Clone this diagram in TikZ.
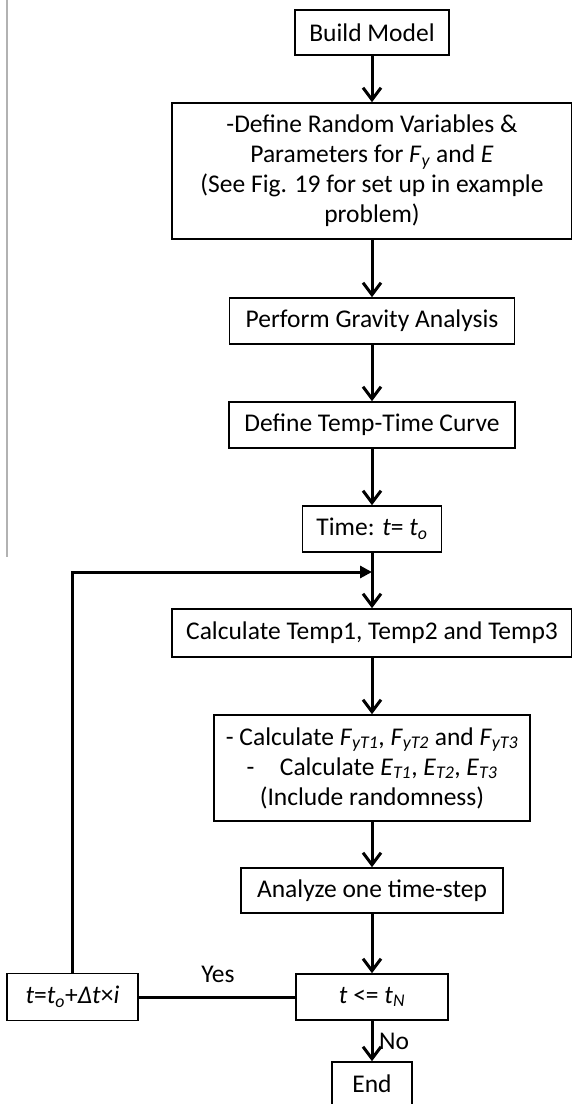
\documentclass[tikz,border=0pt]{standalone}
\usepackage{fontspec}
\setmainfont{Carlito}
\usetikzlibrary{arrows.meta}
\newcommand{\iv}[1]{\textit{#1}}
\newcommand{\isub}[2]{\textit{#1}\textsubscript{\textit{#2}}}
\begin{document}
\begin{tikzpicture}[x=1pt,y=-1pt,
  box/.style={draw, line width=1.6pt, align=center, inner sep=0pt,
    font=\fontsize{25.5}{30}\selectfont},
  flow/.style={line width=3pt, -{Straight Barb[length=12pt,width=18pt,line width=3pt]}},
  plainline/.style={line width=3pt},
  lbl/.style={font=\fontsize{25.5}{30}\selectfont, inner sep=0pt}]
\useasboundingbox (0,0) rectangle (571,1104);
\draw[gray!60, line width=1.5pt] (7,0) -- (7,557);

\node[box, minimum width=154pt, minimum height=45pt] (build) at (372,32.5) {Build Model};
\node[box, minimum width=400pt, minimum height=136pt] (define) at (372,171)
  {-Define Random Variables \&\\ Parameters for \isub{F}{y} and \iv{E}\\ (See Fig. 19 for set up in example\\ problem)};
\node[box, minimum width=285pt, minimum height=46pt] (grav) at (372,321) {Perform Gravity Analysis};
\node[box, minimum width=286pt, minimum height=46pt] (curve) at (372,425) {Define Temp-Time Curve};
\node[box, minimum width=139pt, minimum height=46pt] (time) at (372,529) {Time: \iv{t}= \isub{t}{o}};
\node[box, minimum width=400pt, minimum height=48pt] (calc) at (372,633) {Calculate Temp1, Temp2 and Temp3};
\node[box, minimum width=316pt, minimum height=106pt] (calcf) at (372,768)
  {- Calculate \isub{F}{yT1}, \isub{F}{yT2} and \isub{F}{yT3}\\
   -\quad Calculate \isub{E}{T1}, \isub{E}{T2}, \isub{E}{T3}\\ (Include randomness)};
\node[box, minimum width=262pt, minimum height=45pt] (analyze) at (372,890.5) {Analyze one time-step};
\node[box, minimum width=152pt, minimum height=46pt] (cond) at (372,997) {\iv{t} <= \isub{t}{N}};
\node[box, minimum width=131pt, minimum height=47pt] (upd) at (72.5,997) {\iv{t}=\isub{t}{o}+\iv{Δt}×\iv{i}};
\node[box, minimum width=80pt, minimum height=44pt] (end) at (372,1084) {End};
\coordinate (join) at (372,572);

\draw[flow] (build) -- (define);
\draw[flow] (define) -- (grav);
\draw[flow] (grav) -- (curve);
\draw[flow] (curve) -- (time);
\draw[flow] (time) -- (calc);
\draw[flow] (calc) -- (calcf);
\draw[flow] (calcf) -- (analyze);
\draw[flow] (analyze) -- (cond);
\draw[flow] (cond) -- (end);
\draw[plainline] (cond) -- (upd);
\draw[plainline, -{Triangle[length=12pt,width=12pt]}] (upd.north) |- (join);

\node[lbl] (yes) at (218,974) {Yes};
\node[lbl] (no) at (394,1041) {No};
\end{tikzpicture}
\end{document}
